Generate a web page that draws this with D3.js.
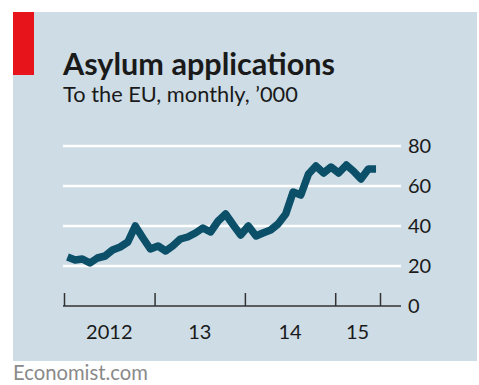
<!DOCTYPE html>
<html>
<head>
<meta charset="utf-8">
<script src="https://cdn.jsdelivr.net/npm/d3@7"></script>
<style>
  html, body { margin: 0; padding: 0; background: #ffffff; }
  svg { display: block; }
  text { font-family: Lato, "Open Sans", sans-serif; }
</style>
</head>
<body>
<svg id="chart" width="479" height="385"></svg>
<script>
// Monthly asylum applications to the EU, thousands, Jan 2012 – Jun 2015
const startMonth = new Date(2012, 0, 1);
const applications = [
  24.5, 23, 23.5, 21.5, 24, 25, 28, 29.5, 32, 40, 34, 28.5,
  30, 27.5, 30, 33.5, 34.5, 36.5, 39, 37, 42.5, 46, 40.5, 35.5,
  40, 35, 36.5, 38, 41, 46, 57, 55.5, 66, 70, 66.5, 69.5,
  66.5, 70.5, 67.5, 63.5, 68.5, 68.5
];
const yTicks = [0, 20, 40, 60, 80];
const yearTicks = [new Date(2012, 0, 1), new Date(2013, 0, 1), new Date(2014, 0, 1), new Date(2015, 0, 1), new Date(2015, 6, 1)];
const yearLabels = ["2012", "13", "14", "15"];

const title = "Asylum applications";
const subtitle = "To the EU, monthly, \u2019000";
const source = "Economist.com";

const colors = {
  panel: "#cddce5",
  accent: "#e8141c",
  line: "#0b4f69",
  grid: "#ffffff",
  axis: "#333333",
  text: "#1a1a1a",
  source: "#8a8a8a"
};

const svg = d3.select("#chart");

// Background panel and red tag
svg.append("rect").attr("x", 13).attr("y", 12).attr("width", 464).attr("height", 349).attr("fill", colors.panel);
svg.append("rect").attr("x", 13).attr("y", 12).attr("width", 21).attr("height", 63).attr("fill", colors.accent);

// Fit a text element to a given width by adjusting its font size
function fitWidth(sel, width) {
  const node = sel.node();
  const size = parseFloat(sel.attr("font-size"));
  const w = node.getComputedTextLength();
  sel.attr("font-size", (size * width / w).toFixed(2));
}

const t = svg.append("text").attr("x", 63).attr("y", 75).attr("font-size", 30)
  .attr("font-weight", 700).attr("fill", colors.text).text(title);
fitWidth(t, 272);
const st = svg.append("text").attr("x", 63).attr("y", 102).attr("font-size", 20)
  .attr("fill", colors.text).text(subtitle);
fitWidth(st, 235);

// Scales
const x = d3.scaleTime().domain([new Date(2012, 0, 1), new Date(2015, 6, 1)]).range([64, 380]);
const y = d3.scaleLinear().domain([0, 80]).range([306, 146]);
const gridRight = 401;

// Horizontal gridlines
svg.append("g").selectAll("line").data(yTicks.filter(d => d > 0)).join("line")
  .attr("x1", 63).attr("x2", gridRight)
  .attr("y1", d => y(d)).attr("y2", d => y(d))
  .attr("stroke", colors.grid).attr("stroke-width", 2.5);

// Right-hand value labels
svg.append("g").selectAll("text").data(yTicks).join("text")
  .attr("x", 408).attr("y", d => y(d) + 7)
  .attr("font-size", 20).attr("fill", colors.text)
  .text(d => d);

// Time axis along zero
const xAxis = d3.axisTop(x).tickValues(yearTicks).tickSize(13).tickFormat("");
const gx = svg.append("g").attr("transform", `translate(0,${y(0)})`).call(xAxis);
gx.select(".domain").remove();
gx.selectAll(".tick line").attr("stroke", colors.axis).attr("stroke-width", 1.5);
svg.append("line").attr("x1", 63).attr("x2", gridRight)
  .attr("y1", y(0)).attr("y2", y(0))
  .attr("stroke", colors.axis).attr("stroke-width", 1.5);

// Year labels centred within each year span
svg.append("g").selectAll("text").data(yearLabels).join("text")
  .attr("x", (d, i) => (x(yearTicks[i]) + x(yearTicks[i + 1])) / 2)
  .attr("y", 339)
  .attr("text-anchor", "middle")
  .attr("font-size", 20).attr("fill", colors.text)
  .text(d => d);

// Series line, plotted at mid-month
const series = applications.map((v, i) => ({ date: new Date(startMonth.getFullYear(), startMonth.getMonth() + i, 15), value: v }));
svg.append("path").datum(series)
  .attr("fill", "none")
  .attr("stroke", colors.line)
  .attr("stroke-width", 7.5)
  .attr("stroke-linejoin", "round")
  .attr("d", d3.line().x(d => x(d.date)).y(d => y(d.value)));

// Source
const src = svg.append("text").attr("x", 13).attr("y", 380).attr("font-size", 18)
  .attr("fill", colors.source).text(source);
fitWidth(src, 135);
</script>
</body>
</html>
